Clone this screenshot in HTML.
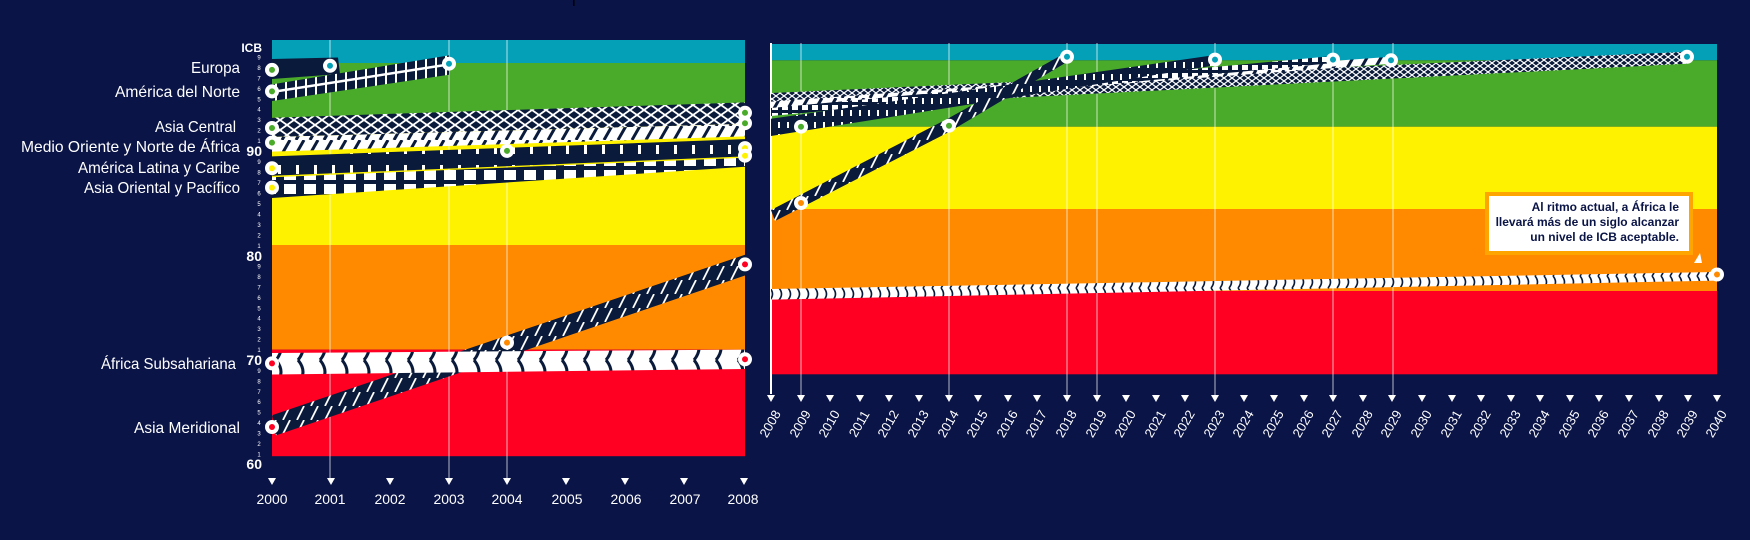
<!DOCTYPE html>
<html><head><meta charset="utf-8"><style>
html,body{margin:0;padding:0;background:#0a1446;overflow:hidden;}
svg{display:block;font-family:"Liberation Sans",sans-serif;}
</style></head><body>
<svg width="1750" height="540" viewBox="0 0 1750 540" xmlns="http://www.w3.org/2000/svg">
<defs>
<pattern id="xh" width="14" height="10" patternUnits="userSpaceOnUse"><rect width="14" height="10" fill="#0a1a3a"/><path d="M0 0L14 10M14 0L0 10" stroke="#fff" stroke-width="1.8"/></pattern>
<pattern id="xh2" width="8" height="6" patternUnits="userSpaceOnUse"><rect width="8" height="6" fill="#0a1a3a"/><path d="M0 0L8 6M8 0L0 6" stroke="#fff" stroke-width="1.2"/></pattern>
<pattern id="chev" width="14" height="14" patternUnits="userSpaceOnUse"><rect width="14" height="14" fill="#fff"/><path d="M2 14L10 0" stroke="#0a1a3a" stroke-width="3"/></pattern>
<pattern id="dash" width="18" height="20" patternUnits="userSpaceOnUse"><rect width="18" height="20" fill="#0a1a3a"/><rect x="8" y="5" width="3" height="9" fill="#fff"/></pattern>
<pattern id="dash2" width="9" height="12" patternUnits="userSpaceOnUse"><rect width="9" height="12" fill="#0a1a3a"/><rect x="4" y="2" width="2" height="6" fill="#fff"/></pattern>
<pattern id="sq" width="20" height="14" patternUnits="userSpaceOnUse"><rect width="20" height="14" fill="#0a1a3a"/><rect x="4" y="2" width="12" height="10" fill="#fff"/></pattern>
<pattern id="sq2" width="10" height="8" patternUnits="userSpaceOnUse"><rect width="10" height="8" fill="#0a1a3a"/><rect x="2" y="1" width="6" height="5" fill="#fff"/></pattern>
<pattern id="diag" width="14" height="14" patternUnits="userSpaceOnUse"><rect width="14" height="14" fill="#0a1a3a"/><path d="M3 14L10 0" stroke="#fff" stroke-width="1.8"/></pattern>
<pattern id="arc" width="22" height="24" patternUnits="userSpaceOnUse"><rect width="22" height="24" fill="#fff"/><path d="M12 0Q22 12 12 24" stroke="#0a1a3a" stroke-width="3" fill="none"/></pattern>
<pattern id="arc2" width="9" height="12" patternUnits="userSpaceOnUse"><rect width="9" height="12" fill="#fff"/><path d="M5 0Q10 6 5 12" stroke="#0a1a3a" stroke-width="1.6" fill="none"/></pattern>
<pattern id="rail" width="10" height="30" patternUnits="userSpaceOnUse"><rect width="10" height="30" fill="#0a1a3a"/><rect x="5" width="2" height="30" fill="#fff"/></pattern>
</defs>
<rect width="1750" height="540" fill="#0a1446"/>
<rect x="573" y="0" width="1.5" height="6" fill="#000"/>

<!-- LEFT CHART -->
<rect x="272" y="40" width="473" height="23" fill="#04a0b8"/>
<rect x="272" y="63" width="473" height="55" fill="#4aaa2a"/>
<rect x="272" y="117.7" width="473" height="127.3" fill="#fff200"/>
<rect x="272" y="245" width="473" height="104.6" fill="#ff8a00"/>
<rect x="272" y="349.6" width="473" height="106.6" fill="#ff0022"/>
<g stroke="#fff" stroke-opacity="0.7" stroke-width="1">
<line x1="330" y1="40" x2="330" y2="478"/><line x1="449" y1="40" x2="449" y2="478"/><line x1="507" y1="40" x2="507" y2="478"/>
</g>
<polygon points="272,59 338,57.5 340,74 272,79" fill="#0a1a3a"/>
<polygon points="272,84.4 449,55.4 449,74.8 272,101" fill="url(#rail)"/>
<line x1="272" y1="92" x2="449" y2="64.4" stroke="#fff" stroke-width="2.5"/>
<polygon points="272,117.7 745,102.4 745,123.9 272,137" fill="url(#xh)"/>
<polygon points="272,137 745,123.9 745,136.4 272,151.6" fill="url(#chev)"/>
<polygon points="272,156.4 745,139.1 745,156.4 272,175.8" fill="url(#dash)"/>
<polygon points="272,177.2 745,157.8 745,166.8 272,198" fill="url(#sq)"/>
<polygon points="272,415.3 745,254.7 745,275.5 276,435.4" fill="url(#diag)"/>
<polygon points="272,353 745,349.6 745,369 272,374.5" fill="url(#arc)"/>
<g stroke="#fff" stroke-width="4">
<circle cx="272" cy="69.9" r="5" fill="#4aaa2a"/><circle cx="330" cy="65.8" r="5" fill="#04a0b8"/>
<circle cx="272" cy="91.4" r="5" fill="#4aaa2a"/><circle cx="449" cy="63.7" r="5" fill="#04a0b8"/>
<circle cx="272" cy="128" r="5" fill="#4aaa2a"/><circle cx="745" cy="112.8" r="5" fill="#4aaa2a"/>
<circle cx="272" cy="142.6" r="5" fill="#4aaa2a"/><circle cx="745" cy="123.2" r="5" fill="#4aaa2a"/>
<circle cx="272" cy="168.2" r="5" fill="#fff200"/><circle cx="745" cy="148.1" r="5" fill="#fff200"/>
<circle cx="507" cy="150.9" r="5" fill="#4aaa2a"/>
<circle cx="272" cy="187.6" r="5" fill="#fff200"/><circle cx="745" cy="155.7" r="5" fill="#fff200"/>
<circle cx="272" cy="427" r="5" fill="#ff0022"/><circle cx="507" cy="342.6" r="5" fill="#ff8a00"/><circle cx="745" cy="264.4" r="5" fill="#ff0022"/>
<circle cx="272" cy="363.4" r="5" fill="#ff0022"/><circle cx="745" cy="359.3" r="5" fill="#ff0022"/>
</g>
<g fill="#fff" font-weight="bold" font-size="14" text-anchor="end">
<text x="262" y="52" font-size="12">ICB</text>
<text x="262" y="156">90</text><text x="262" y="261">80</text><text x="262" y="365">70</text><text x="262" y="469">60</text>
</g>
<g fill="#fff" font-size="6" text-anchor="middle">
<text x="259" y="59.5">9</text><text x="259" y="69.9">8</text><text x="259" y="80.4">7</text><text x="259" y="90.8">6</text><text x="259" y="101.3">5</text><text x="259" y="111.7">4</text><text x="259" y="122.1">3</text><text x="259" y="132.6">2</text><text x="259" y="143">1</text>
<text x="259" y="164.2">9</text><text x="259" y="174.6">8</text><text x="259" y="185.1">7</text><text x="259" y="195.5">6</text><text x="259" y="206">5</text><text x="259" y="216.4">4</text><text x="259" y="226.8">3</text><text x="259" y="237.3">2</text><text x="259" y="247.8">1</text>
<text x="259" y="268.5">9</text><text x="259" y="278.9">8</text><text x="259" y="289.4">7</text><text x="259" y="299.8">6</text><text x="259" y="310.3">5</text><text x="259" y="320.7">4</text><text x="259" y="331.1">3</text><text x="259" y="341.6">2</text><text x="259" y="352">1</text>
<text x="259" y="372.9">9</text><text x="259" y="383.4">8</text><text x="259" y="393.8">7</text><text x="259" y="404.2">6</text><text x="259" y="414.7">5</text><text x="259" y="425.1">4</text><text x="259" y="435.6">3</text><text x="259" y="446">2</text><text x="259" y="456.5">1</text>
</g>
<g fill="#fff" font-size="16" text-anchor="end">
<text x="240" y="73" textLength="49" lengthAdjust="spacingAndGlyphs">Europa</text>
<text x="240" y="97" textLength="125" lengthAdjust="spacingAndGlyphs">América del Norte</text>
<text x="236" y="132" textLength="81" lengthAdjust="spacingAndGlyphs">Asia Central</text>
<text x="240" y="152" textLength="219" lengthAdjust="spacingAndGlyphs">Medio Oriente y Norte de África</text>
<text x="240" y="173" textLength="162" lengthAdjust="spacingAndGlyphs">América Latina y Caribe</text>
<text x="240" y="193" textLength="156" lengthAdjust="spacingAndGlyphs">Asia Oriental y Pacífico</text>
<text x="236" y="369" textLength="135" lengthAdjust="spacingAndGlyphs">África Subsahariana</text>
<text x="240" y="433" textLength="106" lengthAdjust="spacingAndGlyphs">Asia Meridional</text>
</g>
<g fill="#fff">
<path d="M268 478h8l-4 7z"/><path d="M327 478h8l-4 7z"/><path d="M386 478h8l-4 7z"/><path d="M445 478h8l-4 7z"/><path d="M503 478h8l-4 7z"/><path d="M562 478h8l-4 7z"/><path d="M621 478h8l-4 7z"/><path d="M680 478h8l-4 7z"/><path d="M740 478h8l-4 7z"/>
</g>
<g fill="#fff" font-size="14" text-anchor="middle">
<text x="272" y="504" textLength="31" lengthAdjust="spacingAndGlyphs">2000</text>
<text x="330" y="504" textLength="31" lengthAdjust="spacingAndGlyphs">2001</text>
<text x="390" y="504" textLength="31" lengthAdjust="spacingAndGlyphs">2002</text>
<text x="449" y="504" textLength="31" lengthAdjust="spacingAndGlyphs">2003</text>
<text x="507" y="504" textLength="31" lengthAdjust="spacingAndGlyphs">2004</text>
<text x="567" y="504" textLength="31" lengthAdjust="spacingAndGlyphs">2005</text>
<text x="626" y="504" textLength="31" lengthAdjust="spacingAndGlyphs">2006</text>
<text x="685" y="504" textLength="31" lengthAdjust="spacingAndGlyphs">2007</text>
<text x="743" y="504" textLength="31" lengthAdjust="spacingAndGlyphs">2008</text>
</g>

<!-- RIGHT CHART -->
<rect x="771" y="44" width="946" height="16.3" fill="#04a0b8"/>
<rect x="771" y="60.3" width="946" height="66.4" fill="#4aaa2a"/>
<rect x="771" y="126.7" width="946" height="82.3" fill="#fff200"/>
<rect x="771" y="209" width="946" height="82" fill="#ff8a00"/>
<rect x="771" y="291" width="946" height="83.3" fill="#ff0022"/>
<g stroke="#fff" stroke-opacity="0.7" stroke-width="1">
<line x1="801" y1="43" x2="801" y2="396"/><line x1="949" y1="43" x2="949" y2="396"/><line x1="1067" y1="43" x2="1067" y2="396"/><line x1="1097" y1="43" x2="1097" y2="396"/><line x1="1215" y1="43" x2="1215" y2="396"/><line x1="1333" y1="43" x2="1333" y2="396"/><line x1="1393" y1="43" x2="1393" y2="396"/>
</g>
<line x1="771" y1="43" x2="771" y2="394" stroke="#fff" stroke-width="2"/>
<polygon points="771,93 1687,51.7 1687,63.7 771,110" fill="url(#xh2)"/>
<polygon points="771,101.6 1391,56.8 1391,63.7 771,110" fill="url(#chev)"/>
<polygon points="771,108 1333,56 1333,63 771,116" fill="url(#sq2)"/>
<polygon points="771,118.8 1215,55 1215,65.4 771,136" fill="url(#dash2)"/>
<polygon points="771,210 949,118 1067,52 1067,62 949,132 775,221" fill="url(#diag)"/>
<polygon points="771,289 1717,272 1717,280.6 771,299.6" fill="url(#arc2)"/>
<g stroke="#fff" stroke-width="4">
<circle cx="1687" cy="56.8" r="5" fill="#04a0b8"/><circle cx="1391" cy="60.3" r="5" fill="#04a0b8"/>
<circle cx="1333" cy="59.6" r="5" fill="#04a0b8"/><circle cx="1215" cy="59.6" r="5" fill="#04a0b8"/>
<circle cx="1067" cy="56.8" r="5" fill="#04a0b8"/>
<circle cx="801" cy="126.7" r="5" fill="#4aaa2a"/><circle cx="949" cy="125.7" r="5" fill="#4aaa2a"/>
<circle cx="801" cy="203" r="5" fill="#ff8a00"/>
<circle cx="1717" cy="274.5" r="5" fill="#ff8a00"/>
</g>
<rect x="1487" y="194" width="204" height="59" fill="#fff" stroke="#ffa500" stroke-width="4"/>
<g fill="#0a1446" font-size="12" font-weight="bold" text-anchor="end">
<text x="1679" y="211">Al ritmo actual, a África le</text>
<text x="1679" y="226">llevará más de un siglo alcanzar</text>
<text x="1679" y="241">un nivel de ICB aceptable.</text>
</g>
<path d="M1700 253l-6 10h8z" fill="#fff"/>
<g fill="#fff">
<path d="M767 395h8l-4 7z"/><path d="M797 395h8l-4 7z"/><path d="M826 395h8l-4 7z"/><path d="M856 395h8l-4 7z"/><path d="M885 395h8l-4 7z"/><path d="M915 395h8l-4 7z"/><path d="M945 395h8l-4 7z"/><path d="M974 395h8l-4 7z"/><path d="M1004 395h8l-4 7z"/><path d="M1033 395h8l-4 7z"/><path d="M1063 395h8l-4 7z"/><path d="M1093 395h8l-4 7z"/><path d="M1122 395h8l-4 7z"/><path d="M1152 395h8l-4 7z"/><path d="M1181 395h8l-4 7z"/><path d="M1211 395h8l-4 7z"/><path d="M1240 395h8l-4 7z"/><path d="M1270 395h8l-4 7z"/><path d="M1300 395h8l-4 7z"/><path d="M1329 395h8l-4 7z"/><path d="M1359 395h8l-4 7z"/><path d="M1388 395h8l-4 7z"/><path d="M1418 395h8l-4 7z"/><path d="M1448 395h8l-4 7z"/><path d="M1477 395h8l-4 7z"/><path d="M1507 395h8l-4 7z"/><path d="M1536 395h8l-4 7z"/><path d="M1566 395h8l-4 7z"/><path d="M1595 395h8l-4 7z"/><path d="M1625 395h8l-4 7z"/><path d="M1655 395h8l-4 7z"/><path d="M1684 395h8l-4 7z"/><path d="M1713 395h8l-4 7z"/>
</g>
<g fill="#fff" font-size="13" text-anchor="middle">
<text transform="translate(774,426) rotate(-60)">2008</text><text transform="translate(804,426) rotate(-60)">2009</text><text transform="translate(833,426) rotate(-60)">2010</text><text transform="translate(863,426) rotate(-60)">2011</text><text transform="translate(892,426) rotate(-60)">2012</text><text transform="translate(922,426) rotate(-60)">2013</text><text transform="translate(952,426) rotate(-60)">2014</text><text transform="translate(981,426) rotate(-60)">2015</text><text transform="translate(1011,426) rotate(-60)">2016</text><text transform="translate(1040,426) rotate(-60)">2017</text><text transform="translate(1070,426) rotate(-60)">2018</text><text transform="translate(1100,426) rotate(-60)">2019</text><text transform="translate(1129,426) rotate(-60)">2020</text><text transform="translate(1159,426) rotate(-60)">2021</text><text transform="translate(1188,426) rotate(-60)">2022</text><text transform="translate(1218,426) rotate(-60)">2023</text><text transform="translate(1247,426) rotate(-60)">2024</text><text transform="translate(1277,426) rotate(-60)">2025</text><text transform="translate(1307,426) rotate(-60)">2026</text><text transform="translate(1336,426) rotate(-60)">2027</text><text transform="translate(1366,426) rotate(-60)">2028</text><text transform="translate(1395,426) rotate(-60)">2029</text><text transform="translate(1425,426) rotate(-60)">2030</text><text transform="translate(1455,426) rotate(-60)">2031</text><text transform="translate(1484,426) rotate(-60)">2032</text><text transform="translate(1514,426) rotate(-60)">2033</text><text transform="translate(1543,426) rotate(-60)">2034</text><text transform="translate(1573,426) rotate(-60)">2035</text><text transform="translate(1602,426) rotate(-60)">2036</text><text transform="translate(1632,426) rotate(-60)">2037</text><text transform="translate(1662,426) rotate(-60)">2038</text><text transform="translate(1691,426) rotate(-60)">2039</text><text transform="translate(1720,426) rotate(-60)">2040</text>
</g>
</svg>
</body></html>
